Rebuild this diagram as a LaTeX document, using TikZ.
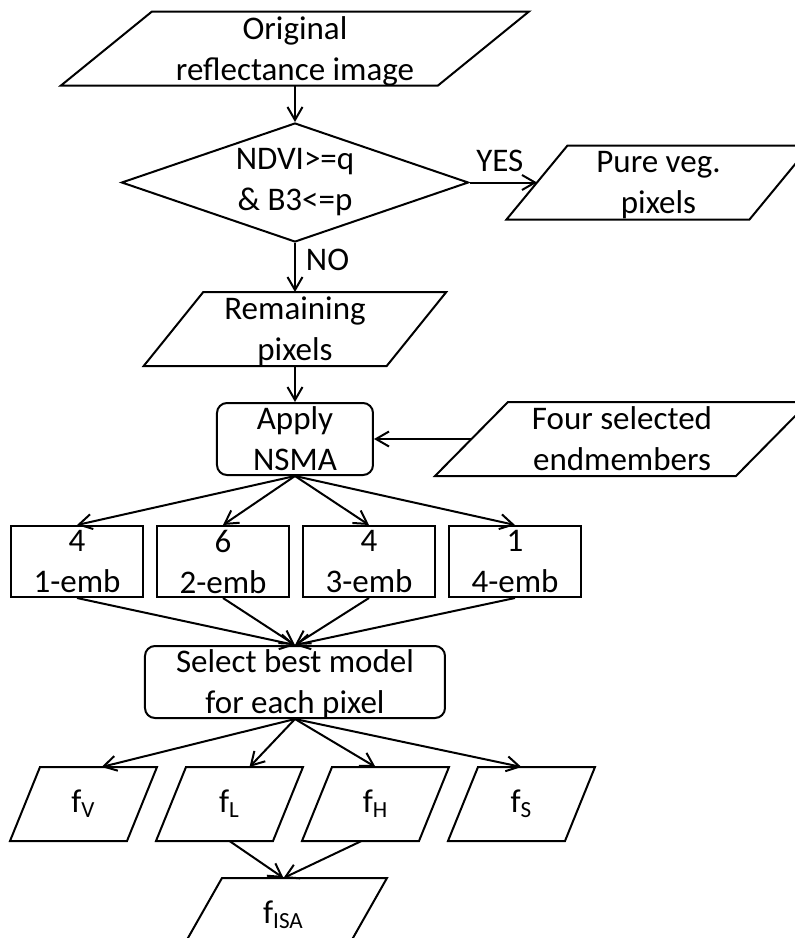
\documentclass[tikz,border=0pt]{standalone}
\usepackage{fontspec}
\setmainfont{Carlito}
\usepackage{tikz}
\usetikzlibrary{positioning}
\usetikzlibrary{arrows.meta}
\usetikzlibrary{shapes.geometric}
\tikzset{io node/.style={rectangle,inner sep=0pt,minimum height=36pt,align=center,text depth=-1.5pt},
         frac node/.style={rectangle,inner sep=0pt,minimum height=36pt,minimum width=57.5pt},
         proc node/.style={rectangle,draw,rounded corners=5pt,inner sep=0pt,minimum height=36pt,align=center,text depth=0pt},
         emb node/.style={rectangle,draw,inner sep=0pt,minimum width=66pt,minimum height=35.5pt,align=center},
         test node/.style={diamond,draw,aspect=2.9,inner sep=0pt,minimum width=173.5pt,minimum height=59.5pt,align=center},
         lbl/.style={inner sep=2pt},}
% slanted outline round an io node: name, half slant
\newcommand{\ioframe}[2]{\draw[-] ([xshift=#2]#1.north west) -- ([xshift=#2]#1.north east) -- ([xshift=-#2]#1.south east) -- ([xshift=-#2]#1.south west) -- cycle;}

\begin{document}
\begin{tikzpicture}[->, >={Straight Barb[length=6.5pt,width=7.5pt]}, node distance=24pt, line width=1pt, font=\fontsize{16.5pt}{20.5pt}\selectfont]
	\useasboundingbox (-147.5pt,24.25pt) rectangle (250pt,-444.75pt);
	\node[io node, minimum width=187.5pt] (orig) {Original\\reflectance image};
	\node[test node] (test) [below=18.25pt of orig] {NDVI>=q\\\& B3<=p};
	\node[io node, minimum width=120.5pt] (pure) [right=33.75pt of test] {Pure veg.\\pixels};
	\node[io node, minimum width=120.5pt] (rem) [below=24.5pt of test] {Remaining\\pixels};
	\node[proc node, minimum width=78pt] (apply) [below=18pt of rem] {Apply\\NSMA};
	\node[io node, minimum width=149.5pt] (four) [right=48.75pt of apply] {Four selected\\endmembers};
	\node[emb node] (e2) [below=24.5pt of apply, xshift=-36pt] {6\\2-emb};
	\node[emb node] (e1) [left=6pt of e2] {4\\1-emb};
	\node[emb node] (e3) [right=6pt of e2] {4\\3-emb};
	\node[emb node] (e4) [right=6pt of e3] {1\\4-emb};
	\node[proc node, minimum width=150pt] (sel) [below=23.5pt of e2, xshift=36pt] {Select best model\\for each pixel};
	\node[frac node] (fl) [below=24pt of sel, xshift=-32.75pt] {f\textsubscript{L}};
	\node[frac node] (fv) [left=14.5pt of fl] {f\textsubscript{V}};
	\node[frac node] (fh) [right=14.5pt of fl] {f\textsubscript{H}};
	\node[frac node] (fs) [right=14.5pt of fh] {f\textsubscript{S}};
	\node[frac node, minimum width=81.5pt] (fisa) [below=18.5pt of fl, xshift=27pt] {f\textsubscript{ISA}};

	\ioframe{orig}{22.75pt}
	\ioframe{pure}{15.25pt}
	\ioframe{rem}{14.9pt}
	\ioframe{four}{18.25pt}
	\foreach \n in {fv,fl,fh,fs} {\ioframe{\n}{7.5pt}}
	\ioframe{fisa}{10.5pt}

	\path
	(orig) edge (test)
	(test) edge node[lbl, above=3pt, pos=0.45] {YES} (pure)
	(test) edge node[lbl, right=3pt, pos=0.35] {NO} (rem)
	(rem) edge (apply)
	(four) edge (apply)
	(apply.south) edge (e1.north)
	(apply.south) edge (e2.north)
	(apply.south) edge (e3.north)
	(apply.south) edge (e4.north)
	(e1.south) edge (sel.north)
	(e2.south) edge (sel.north)
	(e3.south) edge (sel.north)
	(e4.south) edge (sel.north)
	(sel.south) edge ([xshift=9pt]fv.north)
	(sel.south) edge ([xshift=10pt]fl.north)
	(sel.south) edge (fh.north)
	(sel.south) edge (fs.north)
	([xshift=-7pt]fh.south) edge (fisa.north)
	(fl.south) edge (fisa.north);
\end{tikzpicture}
\end{document}
